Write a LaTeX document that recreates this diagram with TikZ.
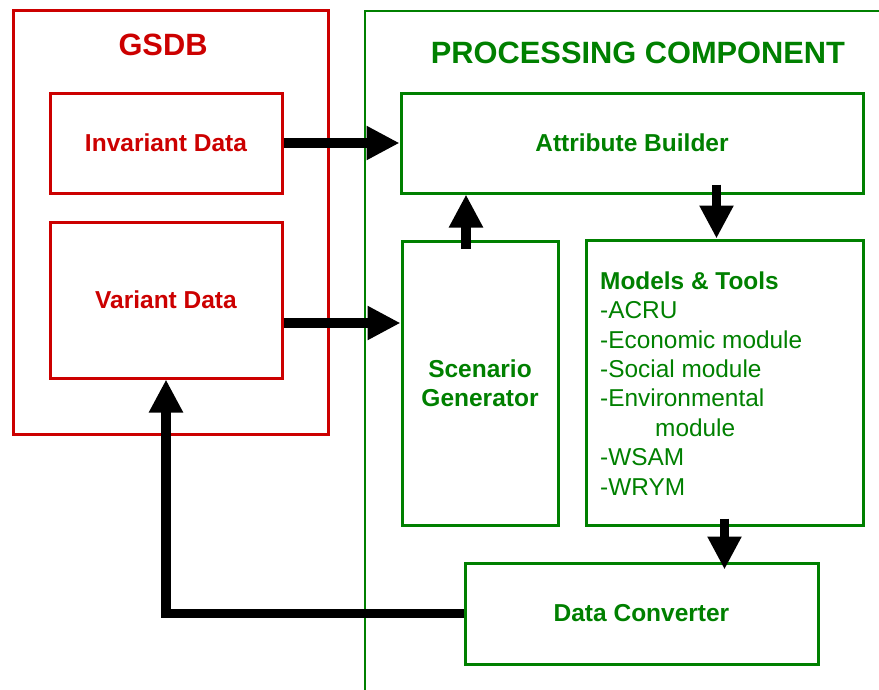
\documentclass[tikz,border=0pt]{standalone}
\usepackage{fontspec}
\setmainfont{Liberation Sans}
\usetikzlibrary{arrows.meta}
\definecolor{dbred}{RGB}{204,0,0}
\definecolor{procgreen}{RGB}{0,128,0}
\begin{document}
\begin{tikzpicture}[x=1pt,y=-1pt,
  redbox/.style={draw=dbred, line width=3pt, rectangle, inner sep=0pt},
  greenbox/.style={draw=procgreen, line width=3pt, rectangle, inner sep=0pt},
  boxlabel/.style={font=\fontsize{24.5}{29}\selectfont\bfseries},
  title/.style={font=\fontsize{30.8}{36}\selectfont\bfseries},
  bigarrow/.style={draw=black, line width=9.5pt, -{Triangle[width=32pt,length=33pt]}},
]
\useasboundingbox (0,0) rectangle (879,689);

% processing component frame (runs past the right and bottom edges)
\begin{scope}
  \clip (0,0) rectangle (879,689);
  \node[greenbox, line width=2.4pt, minimum width=600pt, minimum height=740pt,
        anchor=north west] (proc) at (364,10) {};
\end{scope}

% GSDB frame
\node[redbox, minimum width=315pt, minimum height=424pt] (gsdb) at (170.5,222) {};

% titles
\node[title, text=dbred] (gsdbtitle) at (163,45) {GSDB};
\node[title, text=procgreen] (proctitle) at (638,53) {PROCESSING COMPONENT};

% GSDB contents
\node[redbox, boxlabel, text=dbred, minimum width=232pt, minimum height=100pt]
  (inv) at (166,143) {Invariant Data};
\node[redbox, boxlabel, text=dbred, minimum width=232pt, minimum height=156pt]
  (var) at (166,300) {Variant Data};

% processing contents
\node[greenbox, boxlabel, text=procgreen, minimum width=462pt, minimum height=100pt]
  (att) at (632,143) {Attribute Builder};
\node[greenbox, boxlabel, text=procgreen, align=center, minimum width=156pt, minimum height=284pt]
  (scen) at (480,383) {Scenario\\Generator};
\node[greenbox, minimum width=277pt, minimum height=285pt]
  (models) at (724.5,382.5) {};
\node[anchor=base west, inner sep=0pt, align=left, text=procgreen,
      font=\fontsize{24.4}{29.4}\selectfont] (mtext) at (600,495)
  {\textbf{Models \& Tools}\\-ACRU\\-Economic module\\-Social module\\-Environmental\\\hspace*{55pt}module\\-WSAM\\-WRYM};
\node[greenbox, boxlabel, text=procgreen, minimum width=353pt, minimum height=101pt]
  (dc) at (641.5,613.5) {Data Converter};

% data flow
\draw[bigarrow] (inv) -- (att);
\draw[bigarrow] ([yshift=-23pt]var.east) -- ([yshift=-23pt]var.east -| scen.west);
\draw[bigarrow] ([xshift=-14pt,yshift=-9pt]scen.north) -- ([xshift=-14pt]scen.north |- att.south);
\draw[bigarrow] ([xshift=-8pt,yshift=54pt]models.north) -- ([xshift=-8pt]models.north);
\draw[bigarrow] ([yshift=8pt]models.south) -- ([yshift=-8pt]models.south |- dc.north);
\draw[bigarrow] (dc.west) -| (var.south);
\end{tikzpicture}
\end{document}
